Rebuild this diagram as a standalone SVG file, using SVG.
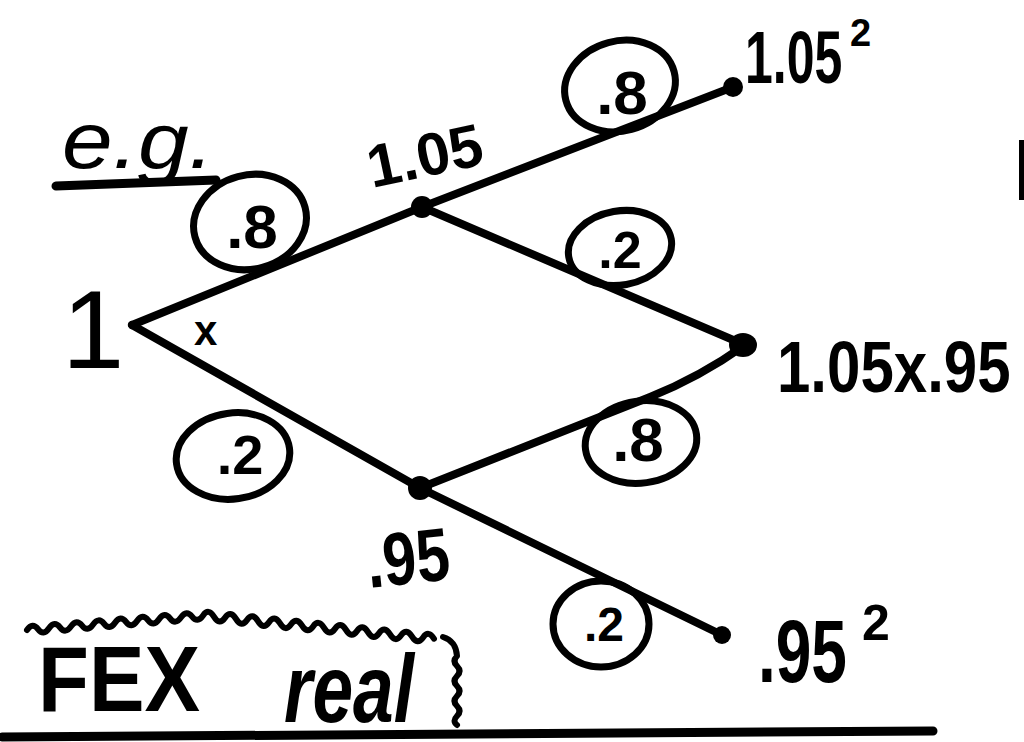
<svg xmlns="http://www.w3.org/2000/svg" width="1024" height="742" viewBox="0 0 1024 742">
<style>
.edge{fill:none;stroke:#000;stroke-width:8;stroke-linecap:round;stroke-linejoin:round}
.ring{fill:none;stroke:#000;stroke-width:7}
.dot{fill:#000}
.t{font-family:"Liberation Sans",Arial,sans-serif;font-weight:bold;fill:#000}
.p{font-family:"Liberation Sans",Arial,sans-serif;font-weight:bold;fill:#000;text-anchor:middle}
.ink{fill:none;stroke:#000;stroke-linecap:round;stroke-linejoin:round}
</style>
<rect width="1024" height="742" fill="#fff"/>

<g id="connectors">
<path class="edge" d="M132,325 L422,207"/>
<path class="edge" d="M422,207 L733,87"/>
<path class="edge" d="M422,207 L745,345"/>
<path class="edge" d="M132,325 L420,488"/>
<path class="edge" d="M420,488 L650,397 Q700,377 745,345"/>
<path class="edge" d="M420,488 L722,635"/>
</g>

<g id="n-root">
<text class="t" x="62" y="368" font-size="112" style="font-weight:normal">1</text>
<text class="t" x="194" y="345" font-size="42">x</text>
</g>
<g id="n-up">
<circle class="dot" cx="422" cy="207" r="11"/>
<text class="t" x="372" y="188" font-size="60" transform="rotate(-12 372 188)">1.05</text>
</g>
<g id="n-down">
<circle class="dot" cx="420" cy="488" r="12"/>
<text class="t" font-size="60" transform="translate(369,588) rotate(-6) scale(1,1.25)">.95</text>
</g>
<g id="n-uu">
<circle class="dot" cx="733" cy="87" r="10"/>
<text class="t" font-size="50" transform="translate(745,83) scale(1,1.5)">1.05</text>
<text class="t" x="850" y="46" font-size="38">2</text>
</g>
<g id="n-ud">
<ellipse class="dot" cx="743" cy="345" rx="14" ry="12"/>
<text class="t" font-size="60" transform="translate(777,392) scale(1,1.2)">1.05x.95</text>
</g>
<g id="n-dd">
<circle class="dot" cx="722" cy="635" r="9"/>
<text class="t" font-size="64" transform="translate(758,682) scale(1,1.4)">.95</text>
<text class="t" x="862" y="640" font-size="50">2</text>
</g>

<g id="prob-labels">
<g id="p1"><ellipse class="ring" cx="250" cy="222" rx="57" ry="47" transform="rotate(-15 250 222)"/><text class="p" x="252" y="248" font-size="62">.8</text></g>
<g id="p2"><ellipse class="ring" cx="620" cy="86" rx="56" ry="45" transform="rotate(-15 620 86)"/><text class="p" x="622" y="114" font-size="62">.8</text></g>
<g id="p3"><ellipse class="ring" cx="620" cy="248" rx="52" ry="37" transform="rotate(-10 620 248)"/><text class="p" x="620" y="268" font-size="52">.2</text></g>
<g id="p4"><ellipse class="ring" cx="233" cy="456" rx="57" ry="43" transform="rotate(-8 233 456)"/><text class="p" x="240" y="474" font-size="56">.2</text></g>
<g id="p5"><ellipse class="ring" cx="641" cy="442" rx="56" ry="41" transform="rotate(-8 641 442)"/><text class="p" x="638" y="461" font-size="62">.8</text></g>
<g id="p6"><ellipse class="ring" cx="601" cy="624" rx="48" ry="43"/><text class="p" x="604" y="641" font-size="48">.2</text></g>
</g>

<g id="eg">
<text class="t" x="62" y="168" font-size="80" font-style="italic" style="font-weight:normal" textLength="152" lengthAdjust="spacingAndGlyphs">e.g.</text>
<path class="ink" stroke-width="9" d="M56,186 L216,180"/>
</g>

<g id="fex-real">
<path class="ink" stroke-width="6" d="M27,630 q5.5,-8 11,-0.9 t11,-0.9 t11,-0.9 t11,-0.9 t11,-0.9 t11,-0.9 t11,-0.9 t11,-0.9 t11,-0.9 t11,-0.9 t11,-0.9 t11,-0.9 t11,-0.9 t11,-0.9 t11,-0.9 t11,-0.9 t11,1.1 t11,1.1 t11,1.1 t11,1.1 t11,1.1 t11,1.1 t11,1.1 t11,1.1 t11,1.1 t11,1.1 t11,1.1 t11,1.1 t11,1.1 t11,1.1 t11,1.1 t11,1.1 t11,1.1 t11,1.1 t11,1.1 t11,1.1 t11,1.1 M443,637 Q456,641 457,656 q-5,5 0,10 t0,10 t0,10 t0,10 t0,10 t0,10 t0,9"/>
<text class="t" x="38" y="711" font-size="92" textLength="162" lengthAdjust="spacingAndGlyphs">FEX</text>
<text class="t" x="284" y="722" font-size="96" font-style="italic" textLength="130" lengthAdjust="spacingAndGlyphs">real</text>
</g>

<g id="frame">
<path class="ink" stroke-width="9" d="M2,737 L933,731"/>
<rect x="1019" y="140" width="5" height="60" fill="#000"/>
</g>
</svg>
